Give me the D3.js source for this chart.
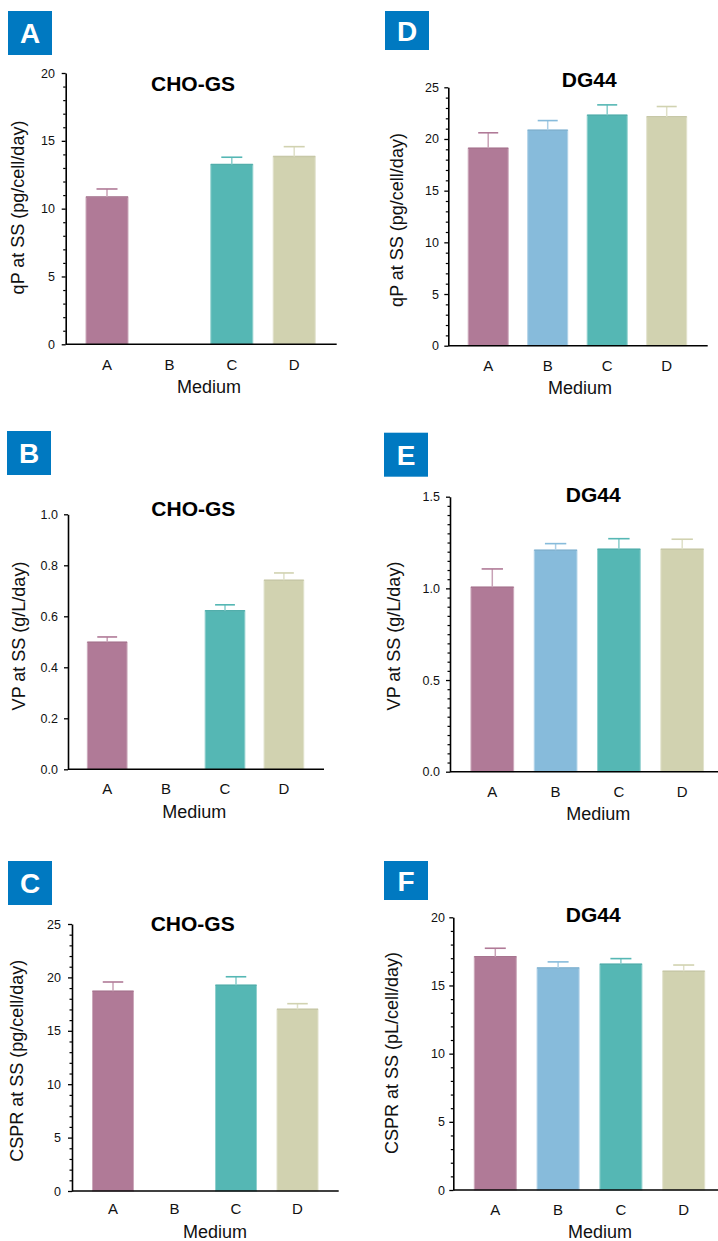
<!DOCTYPE html>
<html>
<head>
<meta charset="utf-8">
<script src="https://cdn.jsdelivr.net/npm/d3@7"></script>
<style>
  html, body { margin: 0; padding: 0; background: #fff; }
  svg { display: block; font-family: "Liberation Sans", Arial, Helvetica, sans-serif; }
</style>
</head>
<body>
<svg id="chart" width="718" height="1241"></svg>
<script>
// ---------------- DATA ----------------
const categories = ["A", "B", "C", "D"];
const barColors = ["#b07a97", "#87bbdb", "#55b7b4", "#d1d2b0"];

// CHO-GS (medium B not tested)
const choQP = [10.85, null, 13.25, 13.85];
const choQPErr = [0.6, null, 0.54, 0.72];
const choVP = [0.498, null, 0.622, 0.741];
const choVPErr = [0.021, null, 0.023, 0.029];
const choCSPR = [18.7, null, 19.26, 17.01];
const choCSPRErr = [0.87, null, 0.8, 0.53];

// DG44
const dgQP = [19.1, 20.85, 22.3, 22.14];
const dgQPErr = [1.5, 0.93, 1.0, 1.0];
const dgVP = [1.006, 1.208, 1.213, 1.213];
const dgVPErr = [0.1, 0.036, 0.058, 0.055];
const dgCSPR = [17.11, 16.29, 16.56, 16.04];
const dgCSPRErr = [0.62, 0.44, 0.41, 0.46];

// Tick labels
const ticksQP_CHO = [0, 5, 10, 15, 20];
const ticksVP_CHO = [0, 0.2, 0.4, 0.6, 0.8, 1.0];
const ticksCSPR_CHO = [0, 5, 10, 15, 20, 25];
const ticksQP_DG = [0, 5, 10, 15, 20, 25];
const ticksVP_DG = [0, 0.5, 1.0, 1.5];
const ticksCSPR_DG = [0, 5, 10, 15, 20];

// ---------------- LAYOUT ----------------
const panels = [
  { letter: "A", title: "CHO-GS", ylabel: "qP at SS (pg/cell/day)", values: choQP, errs: choQPErr,
    ticks: ticksQP_CHO, minor: 1, fmt: d3.format("d"),
    axisX: 65.7, yTop: 73, yBot: 344.3, xEnd: 336.7, c0: 107, step: 62.4, barW: 42,
    titleX: 193, titleY: 90.7, box: [8, 11, 44, 44], catY: 370, medX: 209, medY: 393,
    ylabX: 18, ylabY: 207.5, tickRight: 55 },
  { letter: "B", title: "CHO-GS", ylabel: "VP at SS (g/L/day)", values: choVP, errs: choVPErr,
    ticks: ticksVP_CHO, minor: null, fmt: d3.format(".1f"),
    axisX: 68, yTop: 514.3, yBot: 769.3, xEnd: 324, c0: 107.2, step: 58.9, barW: 39.7,
    titleX: 193.3, titleY: 515.7, box: [7, 431, 44, 44], catY: 794, medX: 194.3, medY: 818.3,
    ylabX: 18.3, ylabY: 636, tickRight: 58 },
  { letter: "C", title: "CHO-GS", ylabel: "CSPR at SS (pg/cell/day)", values: choCSPR, errs: choCSPRErr,
    ticks: ticksCSPR_CHO, minor: 1, fmt: d3.format("d"),
    axisX: 72, yTop: 924, yBot: 1191, xEnd: 338.7, c0: 113, step: 61.5, barW: 41,
    titleX: 192.7, titleY: 930.7, box: [8, 861, 44, 44], catY: 1214.3, medX: 215, medY: 1238,
    ylabX: 16.7, ylabY: 1060.8, tickRight: 61 },
  { letter: "D", title: "DG44", ylabel: "qP at SS (pg/cell/day)", values: dgQP, errs: dgQPErr,
    ticks: ticksQP_DG, minor: 1, fmt: d3.format("d"),
    axisX: 448.3, yTop: 87.3, yBot: 345.7, xEnd: 707.7, c0: 488.2, step: 59.5, barW: 40,
    titleX: 589.3, titleY: 87.3, box: [385, 11, 44, 39], catY: 370.7, medX: 580, medY: 394.3,
    ylabX: 396.7, ylabY: 220, tickRight: 439 },
  { letter: "E", title: "DG44", ylabel: "VP at SS (g/L/day)", values: dgVP, errs: dgVPErr,
    ticks: ticksVP_DG, minor: 0.05, fmt: d3.format(".1f"),
    axisX: 450, yTop: 496.7, yBot: 771.7, xEnd: 718, c0: 492.3, step: 63.3, barW: 42.7,
    titleX: 593.3, titleY: 501.7, box: [384, 432.7, 44, 44], catY: 796.7, medX: 598.3, medY: 820,
    ylabX: 393.3, ylabY: 636, tickRight: 440 },
  { letter: "F", title: "DG44", ylabel: "CSPR at SS (pL/cell/day)", values: dgCSPR, errs: dgCSPRErr,
    ticks: ticksCSPR_DG, minor: 1, fmt: d3.format("d"),
    axisX: 453.3, yTop: 917.3, yBot: 1190, xEnd: 718, c0: 495.3, step: 62.8, barW: 42,
    titleX: 593.3, titleY: 922, box: [384, 861, 44, 39], catY: 1215, medX: 600, medY: 1238,
    ylabX: 391.7, ylabY: 1053, tickRight: 445 }
];

const svg = d3.select("#chart");

function tint(c, k) { return d3.interpolateRgb(c, "#ffffff")(k); }
function shade(c, k) { return d3.interpolateRgb(c, "#000000")(k); }

panels.forEach(p => {
  const g = svg.append("g");

  // Panel letter box
  g.append("rect").attr("x", p.box[0]).attr("y", p.box[1])
    .attr("width", p.box[2]).attr("height", p.box[3]).attr("fill", "#0079c1");
  g.append("text").attr("x", p.box[0] + p.box[2] / 2).attr("y", p.box[1] + p.box[3] / 2)
    .attr("dy", "0.36em").attr("text-anchor", "middle")
    .attr("fill", "#fff").attr("font-weight", "bold").attr("font-size", 28)
    .text(p.letter);

  const yMax = p.ticks[p.ticks.length - 1];
  const y = d3.scaleLinear().domain([0, yMax]).range([p.yBot, p.yTop]);
  const pi = 1 - p.barW / p.step;
  const x = d3.scaleBand().domain(categories)
    .range([p.c0 - p.step / 2, p.c0 + p.step * (categories.length - 0.5)])
    .paddingInner(pi).paddingOuter(pi / 2);

  // Bars
  const data = categories.map((c, i) => ({ c, v: p.values[i], e: p.errs[i], col: barColors[i] }))
    .filter(d => d.v != null);

  g.selectAll("rect.bar").data(data).enter().append("rect")
    .attr("class", "bar")
    .attr("x", d => x(d.c)).attr("width", x.bandwidth())
    .attr("y", d => y(d.v)).attr("height", d => y(0) - y(d.v))
    .attr("fill", d => d.col)
    .attr("stroke", d => tint(d.col, 0.35)).attr("stroke-width", 1);

  // Top edge of bars (slightly darker)
  g.selectAll("line.top").data(data).enter().append("line")
    .attr("x1", d => x(d.c)).attr("x2", d => x(d.c) + x.bandwidth())
    .attr("y1", d => y(d.v)).attr("y2", d => y(d.v))
    .attr("stroke", d => shade(d.col, 0.05)).attr("stroke-width", 1.5);

  // Error bars
  const capW = x.bandwidth() * 0.5;
  g.selectAll("line.err").data(data).enter().append("line")
    .attr("x1", d => x(d.c) + x.bandwidth() / 2).attr("x2", d => x(d.c) + x.bandwidth() / 2)
    .attr("y1", d => y(d.v)).attr("y2", d => y(d.v + d.e))
    .attr("stroke", d => tint(d.col, 0.3)).attr("stroke-width", 1.5);
  g.selectAll("line.cap").data(data).enter().append("line")
    .attr("x1", d => x(d.c) + x.bandwidth() / 2 - capW / 2)
    .attr("x2", d => x(d.c) + x.bandwidth() / 2 + capW / 2)
    .attr("y1", d => y(d.v + d.e)).attr("y2", d => y(d.v + d.e))
    .attr("stroke", d => d.col).attr("stroke-width", 1.6);

  // Minor ticks
  if (p.minor) {
    const n = Math.round(yMax / p.minor);
    const minorVals = d3.range(0, n + 1).map(i => +(i * p.minor).toFixed(4))
      .filter(v => !p.ticks.some(t => Math.abs(t - v) < 1e-6));
    g.append("g").attr("transform", `translate(${p.axisX},0)`)
      .call(d3.axisLeft(y).tickValues(minorVals).tickSize(2.5).tickFormat(""))
      .call(a => a.select(".domain").remove())
      .call(a => a.selectAll("line").attr("stroke", "#000").attr("stroke-width", 1.2));
  }

  // Y axis
  const yAxis = d3.axisLeft(y).tickValues(p.ticks).tickFormat(p.fmt)
    .tickSize(4).tickSizeOuter(0).tickPadding(p.axisX - p.tickRight - 4);
  const ya = g.append("g").attr("transform", `translate(${p.axisX},0)`).call(yAxis);
  ya.select(".domain").attr("stroke", "#000").attr("stroke-width", 1.6);
  ya.selectAll(".tick line").attr("stroke", "#000").attr("stroke-width", 1.3);
  ya.selectAll(".tick text").attr("font-size", 12.5).attr("fill", "#111")
    .attr("font-family", "'Liberation Sans', Arial, sans-serif");

  // X axis baseline
  g.append("line").attr("x1", p.axisX).attr("x2", p.xEnd)
    .attr("y1", p.yBot).attr("y2", p.yBot)
    .attr("stroke", "#000").attr("stroke-width", 1.6);

  // Category labels
  g.selectAll("text.cat").data(categories).enter().append("text")
    .attr("x", d => x(d) + x.bandwidth() / 2).attr("y", p.catY)
    .attr("text-anchor", "middle").attr("font-size", 15).attr("fill", "#111")
    .text(d => d);

  // X title
  g.append("text").attr("x", p.medX).attr("y", p.medY)
    .attr("text-anchor", "middle").attr("font-size", 18).attr("fill", "#111")
    .text("Medium");

  // Y title
  g.append("text")
    .attr("transform", `translate(${p.ylabX},${p.ylabY}) rotate(-90)`)
    .attr("dy", "0.35em").attr("text-anchor", "middle")
    .attr("font-size", 18).attr("fill", "#111")
    .text(p.ylabel);

  // Panel title
  g.append("text").attr("x", p.titleX).attr("y", p.titleY)
    .attr("text-anchor", "middle").attr("font-size", 21).attr("font-weight", "bold")
    .attr("fill", "#000").text(p.title);
});
</script>
</body>
</html>
